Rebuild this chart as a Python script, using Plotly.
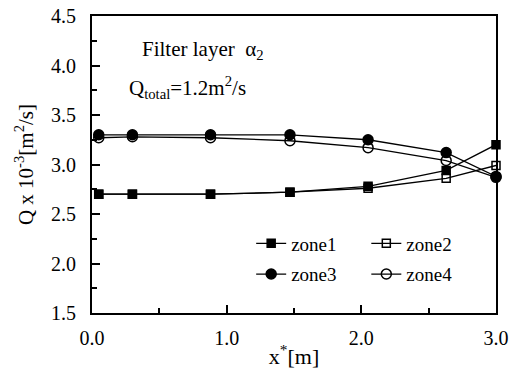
import plotly.graph_objects as go

x_vals = [0.05, 0.3, 0.88, 1.47, 2.05, 2.63, 3.0]
zone1 = [2.70, 2.70, 2.70, 2.72, 2.78, 2.94, 3.20]
zone2 = [2.70, 2.70, 2.70, 2.72, 2.76, 2.86, 2.99]
zone3 = [3.30, 3.30, 3.30, 3.30, 3.25, 3.12, 2.88]
zone4 = [3.27, 3.28, 3.27, 3.24, 3.17, 3.04, 2.87]

names = ["zone1", "zone2", "zone3", "zone4"]
symbols = ["square", "square-open", "circle", "circle-open"]
sizes = [8, 8, 10, 10]
legends = ["legend", "legend2", "legend", "legend2"]
series = [zone1, zone2, zone3, zone4]

FONT = "Times New Roman"
fig = go.Figure()
for nm, ys, sym, sz, lg in zip(names, series, symbols, sizes, legends):
    fig.add_trace(go.Scatter(
        x=x_vals, y=ys, name=nm, mode="lines+markers",
        line=dict(color="black", width=1.3),
        marker=dict(symbol=sym, size=sz, color="black",
                    line=dict(color="black", width=1.5)),
        legend=lg, legendgroup=nm, cliponaxis=False,
    ))

axis_common = dict(
    showline=True, linecolor="black", linewidth=2, mirror=True,
    ticks="inside", tickcolor="black", tickwidth=2, ticklen=8,
    showgrid=False, zeroline=False, automargin=False,
)
fig.update_xaxes(range=[0, 3], tickvals=[0, 1, 2, 3], ticktext=["0.0", "1.0", "2.0", "3.0"],
                 minor=dict(ticks="inside", dtick=0.5, ticklen=5, tickwidth=2, tickcolor="black"),
                 tickfont=dict(family=FONT, size=20, color="black"),
                 title=dict(text="x<sup>*</sup>[m]", font=dict(family=FONT, size=22, color="black"), standoff=1),
                 ticklabelstandoff=6, **axis_common)
fig.update_yaxes(range=[1.5, 4.5], tickvals=[1.5, 2.0, 2.5, 3.0, 3.5, 4.0, 4.5],
                 ticktext=["1.5", "2.0", "2.5", "3.0", "3.5", "4.0", "4.5"],
                 minor=dict(ticks="inside", dtick=0.25, ticklen=5, tickwidth=2, tickcolor="black"),
                 tickfont=dict(family=FONT, size=20, color="black"),
                 title=dict(text="Q x 10<sup>-3</sup>[m<sup>2</sup>/s]", font=dict(family=FONT, size=21, color="black"), standoff=12),
                 ticklabelstandoff=10, **axis_common)

leg_common = dict(orientation="v", bgcolor="rgba(0,0,0,0)",
                  font=dict(family=FONT, size=19, color="black"), itemclick=False,
                  xanchor="left", yanchor="top", tracegroupgap=3)
fig.update_layout(
    legend=dict(x=0.394, y=0.298, **leg_common),
    legend2=dict(x=0.679, y=0.298, **leg_common),
)

fig.add_annotation(x=0.118, y=0.886, xref="paper", yref="paper", xanchor="left", yanchor="middle",
                   text="Filter layer &nbsp;α<sub>2</sub>", showarrow=False,
                   font=dict(family=FONT, size=21, color="black"))
fig.add_annotation(x=0.086, y=0.76, xref="paper", yref="paper", xanchor="left", yanchor="middle",
                   text="Q<sub>total</sub>=1.2m<sup>2</sup>/s", showarrow=False,
                   font=dict(family=FONT, size=21, color="black"))

fig.update_layout(
    width=517, height=370,
    margin=dict(l=92, r=21, t=16, b=57, autoexpand=False),
    paper_bgcolor="white", plot_bgcolor="white",
    font=dict(family=FONT, color="black"),
)
fig.write_html("out.html", config={"displayModeBar": False},
               post_script="document.body.style.margin='0';")
